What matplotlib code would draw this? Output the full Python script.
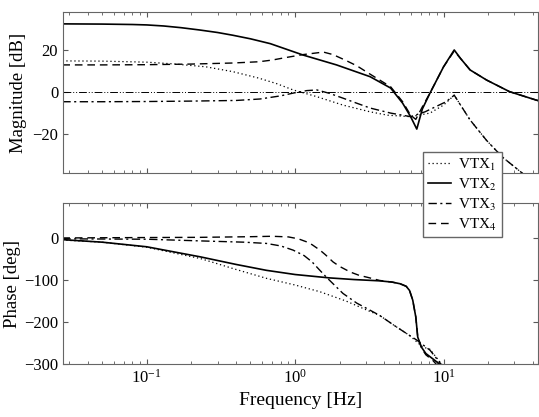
import matplotlib
matplotlib.use('Agg')
import matplotlib.pyplot as plt
import numpy as np

plt.rcParams['font.family'] = ['Liberation Serif', 'DejaVu Serif']
plt.rcParams['mathtext.fontset'] = 'stix'

# magnitude curves [dB]
f_mag1 = [0.027, 0.05, 0.1, 0.15, 0.25, 0.38, 0.57, 0.75, 0.97, 1.4, 2.1, 3.2, 4.2, 6.0, 8.1, 10.0, 11.8, 15.1, 19.5, 25, 34, 44]
mag1 = [14.8, 14.7, 14.2, 13.4, 12, 9.7, 6.6, 4, 1, -2.2, -6.2, -9.4, -11, -11.7, -10, -6.2, -1.5, -13.3, -23, -31, -38.6, -45]

f_mag2 = [0.027, 0.05, 0.08, 0.1, 0.13, 0.17, 0.227, 0.3, 0.38, 0.5, 0.68, 1.13, 1.9, 3.2, 4.4, 5.3, 6.0, 6.6, 7.2, 8.1, 10.0, 11.8, 13.0, 15.1, 19.5, 27.8, 42, 44]
mag2 = [32.4, 32.3, 32.1, 31.9, 31.4, 30.6, 29.5, 28.3, 27, 25.3, 23, 17.6, 12.9, 7.3, 1.9, -5.3, -11.7, -17.6, -8, -0.5, 12, 20, 16, 10.5, 5.7, 0.2, -3.8, -4.2]

f_mag3 = [0.027, 0.05, 0.1, 0.2, 0.4, 0.58, 0.8, 0.97, 1.2, 1.4, 1.7, 2.1, 2.6, 3.2, 4.4, 6.0, 7.5, 10.4, 11.8, 15.1, 19.5, 25, 34, 44]
mag3 = [-4.6, -4.6, -4.5, -4.3, -4, -3.3, -1.8, -0.5, 0.7, 1, -0.6, -2.9, -5.3, -7.6, -10, -11.7, -9.4, -4.6, -1.5, -13.3, -23, -31, -38.6, -45]

f_mag4 = [0.027, 0.05, 0.1, 0.2, 0.38, 0.57, 0.7, 0.85, 1.13, 1.55, 1.8, 2.2, 2.6, 3.2, 4.4, 5.3, 6.0, 6.5, 7.2, 8.1, 10.0, 11.8, 13.0, 15.1, 19.5, 27.8, 42, 44]
mag4 = [12.9, 12.9, 13, 13.3, 13.8, 14.4, 15.2, 16.3, 17.8, 19, 17.8, 15, 12.5, 8.5, 2.5, -4.6, -11, -13, -7, -0.5, 12, 19.5, 16, 10.5, 5.7, 0.2, -3.8, -4.2]

# phase curves [deg]
f_ph1 = [0.027, 0.05, 0.1, 0.23, 0.4, 0.64, 1.0, 1.47, 2.2, 3.2, 3.7, 4.6, 5.9, 7.2, 8.1, 9.7, 11]
ph1 = [-5, -10, -22, -49, -75, -96, -112, -128, -150, -175, -184, -207, -232, -259, -265, -300, -320]

f_ph2 = [0.027, 0.05, 0.1, 0.23, 0.4, 0.64, 1.0, 1.7, 2.5, 3.7, 4.5, 5.1, 5.6, 5.9, 6.2, 6.5, 6.7, 7.1, 7.6, 9.4, 11]
ph2 = [-4, -10, -21, -45, -63, -77, -87, -95, -99, -102, -105, -109, -115, -125, -148, -188, -236, -260, -275, -300, -320]

f_ph3 = [0.027, 0.05, 0.1, 0.23, 0.45, 0.64, 0.8, 0.97, 1.15, 1.3, 1.45, 1.62, 1.85, 2.1, 2.6, 3.2, 3.7, 4.6, 5.9, 6.6, 8.1, 9.6, 11]
ph3 = [-2, -2.5, -3, -7, -10, -13, -19, -29, -42, -57, -75, -93, -113, -132, -155, -172, -184, -207, -232, -243, -267, -300, -320]

f_ph4 = [0.027, 0.05, 0.1, 0.23, 0.5, 0.7, 0.9, 1.05, 1.2, 1.3, 1.47, 1.6, 1.8, 2.0, 2.35, 2.7, 3.1, 3.7, 4.5, 5.1, 5.6, 5.9, 6.2, 6.5, 6.7, 7.1, 7.6, 8.5, 10]
ph4 = [0, 0.5, 1, 1.5, 3, 4, 2.5, -2, -9.5, -16, -29, -40, -57, -68, -81, -89, -94, -101, -105, -109, -115, -125, -148, -188, -236, -262, -278, -292, -320]

labels = ['VTX$_1$', 'VTX$_2$', 'VTX$_3$', 'VTX$_4$']
styles = [dict(dashes=(1, 2.2), lw=0.9),
          dict(linestyle='-', lw=1.2),
          dict(dashes=(6, 2.5, 1.5, 2.5), lw=1.0),
          dict(dashes=(5.5, 3.5), lw=1.0)]

fig = plt.figure(figsize=(5.39, 4.17), dpi=100)
ax1 = fig.add_axes([0.117, 0.585, 0.882, 0.386])
ax2 = fig.add_axes([0.117, 0.127, 0.882, 0.386])

mags = [(f_mag1, mag1), (f_mag2, mag2), (f_mag3, mag3), (f_mag4, mag4)]
phs = [(f_ph1, ph1), (f_ph2, ph2), (f_ph3, ph3), (f_ph4, ph4)]

lines = []
for (f, m), st, lab in zip(mags, styles, labels):
    l, = ax1.semilogx(f, m, color='k', label=lab, **st)
    lines.append(l)
ax1.axhline(0, color='k', lw=0.7, dashes=(8, 2, 1, 2, 1, 2))

for (f, p), st in zip(phs, styles):
    ax2.semilogx(f, p, color='k', **st)

for ax in (ax1, ax2):
    ax.set_xlim(0.0273, 43.6)
    ax.tick_params(which='both', direction='in', top=True, right=True,
                   labelsize=12, color='0.35')
    ax.tick_params(which='major', length=3.5)
    ax.tick_params(which='minor', length=2)
    for s in ax.spines.values():
        s.set_color('0.4')

ax1.set_ylim(-38.5, 38)
ax1.set_yticks([-20, 0, 20])
ax1.tick_params(labelbottom=False)
ax1.set_ylabel('Magnitude [dB]', fontsize=13.5, labelpad=4)

ax2.set_ylim(-300, 83)
ax2.set_yticks([-300, -200, -100, 0])
ax2.set_ylabel('Phase [deg]', fontsize=13.5, labelpad=2)
ax2.set_xlabel('Frequency [Hz]', fontsize=14, labelpad=4)

leg = fig.legend(handles=lines, loc='upper left', bbox_to_anchor=(0.785, 0.635),
                 fontsize=11, frameon=True, fancybox=False, framealpha=1,
                 edgecolor='0.4', handlelength=1.5, handletextpad=0.5,
                 labelspacing=0.25, borderpad=0.3, borderaxespad=0)
leg.get_frame().set_linewidth(1.0)

fig.savefig('out.png', dpi=100)
